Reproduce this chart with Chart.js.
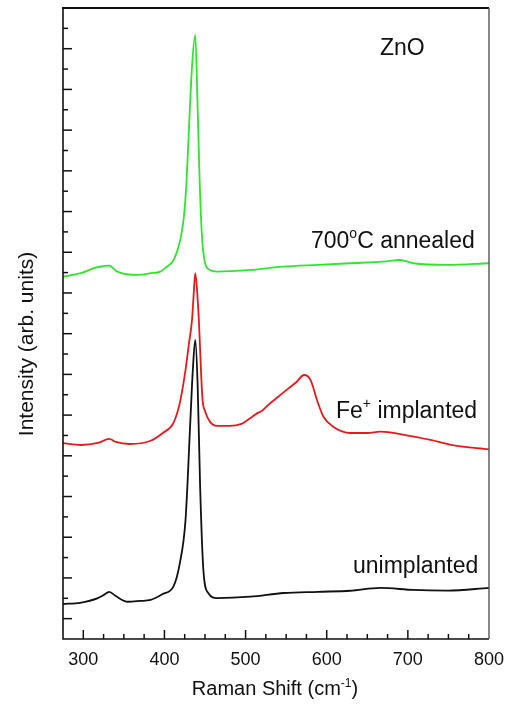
<!DOCTYPE html>
<html>
<head>
<meta charset="utf-8">
<script src="https://cdn.jsdelivr.net/npm/chart.js@4.4.0/dist/chart.umd.min.js"></script>
<style>
html,body{margin:0;padding:0;background:#fff;}
#wrap{position:relative;width:509px;height:705px;}
</style>
</head>
<body>
<div id="wrap"><canvas id="c" width="509" height="705"></canvas></div>
<script>
// ---- data (Raman shift in cm^-1, intensity in arbitrary units, curves vertically offset) ----
const unimplantedX = [275,296,318,325,332,340,355,370,383,398,411,419,426,432,435,438,441,444,448,454,465,506,547,589,629,666,707,749,800];
const unimplantedY = [1.72,1.78,2.01,2.16,2.32,2.11,1.83,1.87,1.92,2.21,2.57,3.73,5.85,10.76,13.22,14.69,12.40,7.48,3.39,2.26,2.01,2.08,2.26,2.32,2.37,2.51,2.41,2.38,2.51];

const implantedX = [275,297,318,332,340,357,383,398,411,419,426,430,434,436,438,441,443,445,447,450,456,465,480,495,506,515,520,528,546,563,572,580,588,596,608,629,650,666,697,728,755,800];
const implantedY = [9.62,9.53,9.63,9.83,9.68,9.58,9.74,10.12,10.61,11.60,13.22,14.45,15.68,16.90,17.97,16.66,15.18,13.22,11.74,11.20,10.68,10.47,10.47,10.57,10.86,11.11,11.20,11.50,12.09,12.64,12.97,12.73,11.74,10.92,10.43,10.12,10.12,10.19,10.02,9.78,9.53,9.32];

const annealedX = [275,297,313,322,332,342,367,383,395,403,410,415,420,424,427,430,434,438,441,443,446,450,456,465,506,546,589,629,670,690,707,749,800];
const annealedY = [17.80,17.97,18.22,18.30,18.34,18.05,17.89,17.97,18.05,18.29,18.53,18.97,19.71,20.75,22.31,24.86,28.12,29.68,25.99,23.05,19.95,18.48,18.13,18.05,18.13,18.29,18.38,18.46,18.54,18.62,18.46,18.38,18.46];

const xTickValues = [275,300,325,350,375,400,425,450,475,500,525,550,575,600,625,650,675,700,725,750,775,800];
const xTickLabels = {300:'300',400:'400',500:'500',600:'600',700:'700',800:'800'};
const yTickValues = [1,2,3,4,5,6,7,8,9,10,11,12,13,14,15,16,17,18,19,20,21,22,23,24,25,26,27,28,29,30];

const FONT = '"Liberation Sans", Arial, Helvetica, sans-serif';

function pts(xs, ys){ return xs.map((x,i)=>({x:x, y:ys[i]})); }

function drawRich(ctx, parts, x, y, size, align){
  let total = 0;
  const widths = parts.map(p=>{
    ctx.font = (p.sup ? Math.round(size*0.6) : size) + 'px ' + FONT;
    const w = ctx.measureText(p.t).width; total += w; return w;
  });
  let cx = align === 'center' ? x - total/2 : x;
  parts.forEach((p,i)=>{
    ctx.font = (p.sup ? Math.round(size*0.6) : size) + 'px ' + FONT;
    ctx.fillText(p.t, cx, p.sup ? y - size*0.42 : y);
    cx += widths[i];
  });
}

const framePlugin = {
  id: 'frame',
  afterDraw(chart){
    const ctx = chart.ctx, a = chart.chartArea;
    const xs = chart.scales.x, ys = chart.scales.y;
    ctx.save();
    ctx.strokeStyle = '#111';
    ctx.lineCap = 'butt';
    // inward tick marks
    ctx.lineWidth = 1.5;
    xTickValues.forEach(v=>{
      if (v <= 275 || v >= 800) return;
      const px = xs.getPixelForValue(v);
      const len = (v % 100 === 0) ? 9 : 5;
      ctx.beginPath(); ctx.moveTo(px, a.bottom); ctx.lineTo(px, a.bottom - len); ctx.stroke();
    });
    yTickValues.forEach(v=>{
      const py = ys.getPixelForValue(v);
      const len = (v % 2 === 1) ? 9 : 5;
      ctx.beginPath(); ctx.moveTo(a.left, py); ctx.lineTo(a.left + len, py); ctx.stroke();
    });
    // frame
    ctx.lineWidth = 1.6;
    ctx.beginPath(); ctx.moveTo(a.left, a.top); ctx.lineTo(a.left, a.bottom); ctx.lineTo(a.right, a.bottom); ctx.stroke();
    ctx.lineWidth = 2.2;
    ctx.beginPath(); ctx.moveTo(a.left - 1, a.top); ctx.lineTo(a.right, a.top); ctx.stroke();
    ctx.strokeStyle = '#555';
    ctx.lineWidth = 1.4;
    ctx.beginPath(); ctx.moveTo(a.right, a.top); ctx.lineTo(a.right, a.bottom); ctx.stroke();

    // annotations
    ctx.fillStyle = '#111';
    ctx.textBaseline = 'alphabetic';
    ctx.textAlign = 'left';
    drawRich(ctx, [{t:'ZnO'}], 380, 55, 23);
    drawRich(ctx, [{t:'700'},{t:'o',sup:true},{t:'C annealed'}], 311, 248, 23);
    drawRich(ctx, [{t:'Fe'},{t:'+',sup:true},{t:' implanted'}], 336, 418, 23);
    drawRich(ctx, [{t:'unimplanted'}], 353, 573, 23);
    // x-axis title
    drawRich(ctx, [{t:'Raman Shift (cm'},{t:'-1',sup:true},{t:')'}], 275, 695, 20, 'center');
    // y-axis title
    ctx.save();
    ctx.translate(33, 344);
    ctx.rotate(-Math.PI/2);
    ctx.textAlign = 'center';
    ctx.font = '21px ' + FONT;
    ctx.fillText('Intensity (arb. units)', 0, 0);
    ctx.restore();
    ctx.restore();
  }
};

const ctx = document.getElementById('c').getContext('2d');
new Chart(ctx, {
  type: 'line',
  data: {
    datasets: [
      {label:'unimplanted', data: pts(unimplantedX, unimplantedY), borderColor:'#111111', borderWidth:1.8, pointRadius:0, fill:false, cubicInterpolationMode:'monotone'},
      {label:'Fe+ implanted', data: pts(implantedX, implantedY), borderColor:'#e8191c', borderWidth:1.8, pointRadius:0, fill:false, cubicInterpolationMode:'monotone'},
      {label:'700oC annealed', data: pts(annealedX, annealedY), borderColor:'#2ee62e', borderWidth:1.8, pointRadius:0, fill:false, cubicInterpolationMode:'monotone'}
    ]
  },
  options: {
    responsive: false,
    animation: false,
    devicePixelRatio: 1,
    layout: {padding: {top: 8, right: 20, left: 0, bottom: 0}},
    plugins: {legend: {display: false}, tooltip: {enabled: false}},
    scales: {
      x: {
        type: 'linear', min: 275, max: 800,
        afterBuildTicks: s => { s.ticks = xTickValues.map(v => ({value: v})); },
        ticks: {autoSkip: false, maxRotation: 0, color: '#111', padding: 10,
                font: {family: FONT, size: 18},
                callback: v => xTickLabels[v] || ''},
        grid: {display: false, drawTicks: false},
        border: {display: false},
        afterFit: s => { s.height = 66; s.paddingLeft = 0; s.paddingRight = 0; }
      },
      y: {
        type: 'linear', min: 0, max: 31,
        ticks: {display: false, stepSize: 1},
        grid: {display: false, drawTicks: false},
        border: {display: false},
        title: {display: false},
        afterFit: s => { s.width = 63; s.paddingTop = 0; s.paddingBottom = 0; }
      }
    }
  },
  plugins: [framePlugin]
});
</script>
</body>
</html>
